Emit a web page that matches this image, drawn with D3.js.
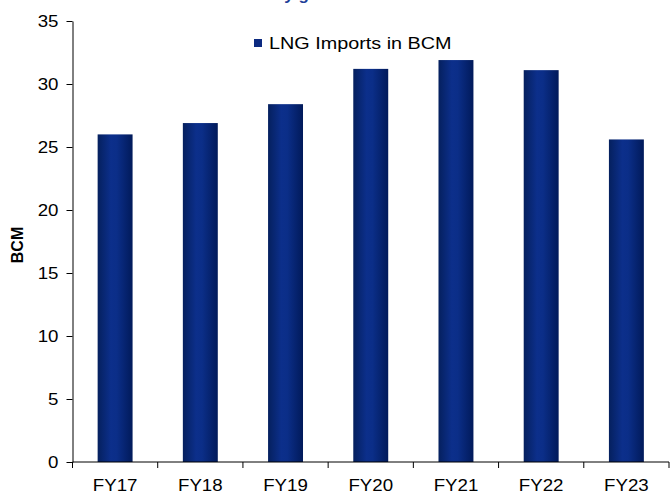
<!DOCTYPE html>
<html>
<head>
<meta charset="utf-8">
<script src="https://cdn.jsdelivr.net/npm/d3@7"></script>
<style>
  html, body { margin: 0; padding: 0; background: #fff; }
  svg { display: block; }
  text { font-family: Arial, "Liberation Sans", sans-serif; }
</style>
</head>
<body>
<svg id="chart" width="671" height="496"></svg>
<script>
// LNG imports by fiscal year, billion cubic metres
const categories = ["FY17", "FY18", "FY19", "FY20", "FY21", "FY22", "FY23"];
const lngImports = [26.0, 26.9, 28.4, 31.2, 31.9, 31.1, 25.6];
const yTicks = [0, 5, 10, 15, 20, 25, 30, 35];
const seriesName = "LNG Imports in BCM";
const yTitle = "BCM";
const chartTitle = "Steady growth till FY21";

const svg = d3.select("#chart");
const margin = { left: 72.5, right: 2, top: 21, bottom: 34 };
const W = 671, H = 496;
const stretch = 1.1; // labels are set slightly wide

const x = d3.scaleBand()
  .domain(categories)
  .range([margin.left, W - margin.right])
  .padding(0);

const y = d3.scaleLinear()
  .domain([0, 35])
  .range([H - margin.bottom, margin.top]);

// horizontal shading on the columns
const defs = svg.append("defs");
const grad = defs.append("linearGradient")
  .attr("id", "barShade")
  .attr("x1", "0%").attr("x2", "100%")
  .attr("y1", "0%").attr("y2", "0%");
[[0, "#05205e"], [0.38, "#0c2f8b"], [0.55, "#0b2e88"], [1, "#011a5a"]]
  .forEach(([o, c]) => grad.append("stop").attr("offset", o).attr("stop-color", c));

// heading, mostly above the top edge
svg.append("text")
  .attr("x", 238)
  .attr("y", -0.5)
  .attr("font-size", 17)
  .attr("font-weight", "bold")
  .attr("fill", "#1f3f99")
  .text(chartTitle);

// columns
const barW = x.bandwidth() * 0.41;
svg.append("g").selectAll("rect")
  .data(lngImports)
  .join("rect")
  .attr("x", (d, i) => x(categories[i]) + (x.bandwidth() - barW) / 2)
  .attr("y", d => y(d))
  .attr("width", barW)
  .attr("height", d => y(0) - y(d))
  .attr("fill", "url(#barShade)");

// y axis
const yAxis = svg.append("g")
  .attr("transform", `translate(${margin.left},0)`)
  .call(d3.axisLeft(y).tickValues(yTicks).tickSize(6).tickSizeOuter(0).tickPadding(8));
yAxis.select(".domain").attr("stroke", "#000");
yAxis.selectAll(".tick line").attr("stroke", "#000");
yAxis.selectAll(".tick text")
  .attr("font-size", 17)
  .attr("font-family", "Arial, 'Liberation Sans', sans-serif")
  .attr("fill", "#000")
  .attr("transform", `translate(-14,0) scale(${stretch},1)`)
  .attr("x", 0);

// x axis: ticks sit on the category boundaries
const xAxisG = svg.append("g")
  .attr("transform", `translate(0,${y(0)})`);
xAxisG.append("line")
  .attr("x1", x.range()[0]).attr("x2", x.range()[1])
  .attr("stroke", "#000");
const bounds = categories.map(c => x(c)).concat([x.range()[1]]);
xAxisG.selectAll("line.tk")
  .data(bounds)
  .join("line")
  .attr("class", "tk")
  .attr("x1", d => d).attr("x2", d => d)
  .attr("y1", 0).attr("y2", 6)
  .attr("stroke", "#000");
xAxisG.selectAll("text")
  .data(categories)
  .join("text")
  .attr("transform", d => `translate(${x(d) + x.bandwidth() / 2},29) scale(${stretch},1)`)
  .attr("text-anchor", "middle")
  .attr("font-size", 17)
  .attr("fill", "#000")
  .text(d => d);

// y title
svg.append("text")
  .attr("transform", "translate(23,245) rotate(-90)")
  .attr("text-anchor", "middle")
  .attr("font-size", 16)
  .attr("font-weight", "bold")
  .attr("fill", "#000")
  .text(yTitle);

// legend
const lg = svg.append("g").attr("transform", "translate(254,39)");
lg.append("rect").attr("width", 8).attr("height", 8).attr("fill", "#0c2a80");
lg.append("text")
  .attr("transform", "translate(15,10) scale(1.2,1)")
  .attr("font-size", 16.5)
  .attr("fill", "#000")
  .text(seriesName);
</script>
</body>
</html>
